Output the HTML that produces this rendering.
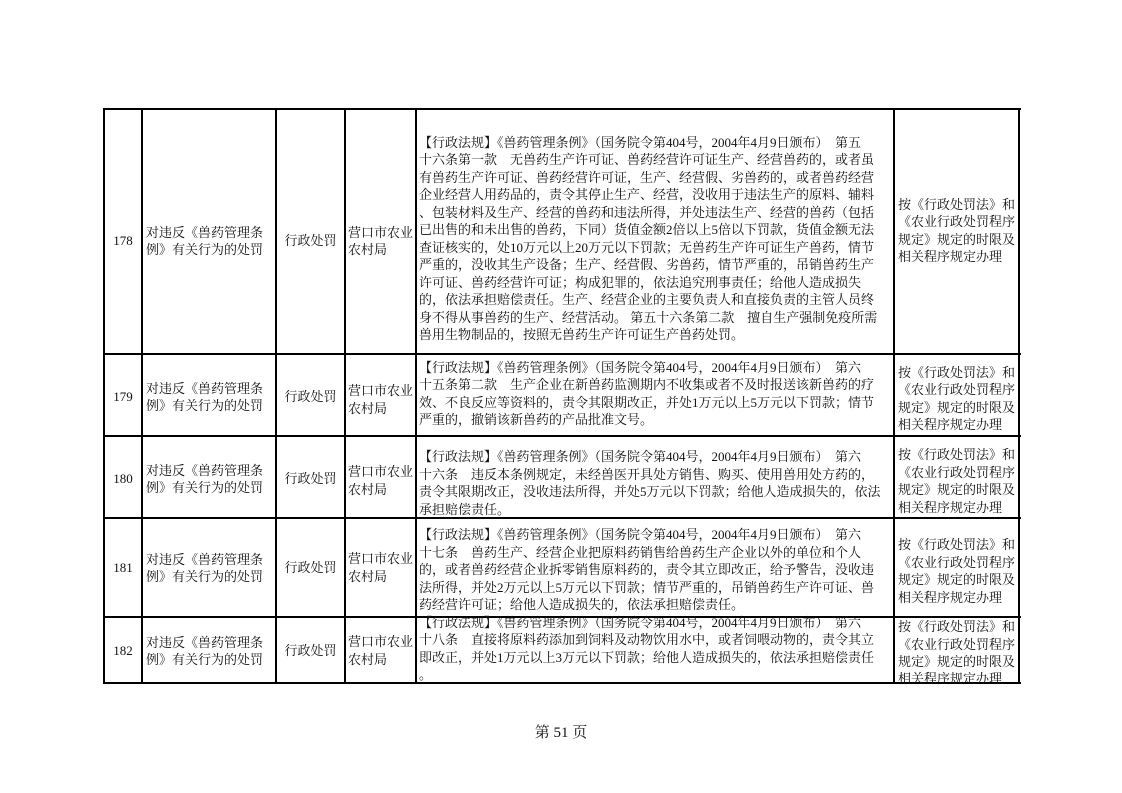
<!DOCTYPE html>
<html><head><meta charset="utf-8"><style>
html,body{margin:0;padding:0;background:#fff;}
body{width:1122px;height:793px;position:relative;overflow:hidden;font-family:"Liberation Serif","Noto Serif CJK SC",serif;font-size:13px;color:#111;}
.h{position:absolute;height:2px;background:#000;left:103px;width:918px;}
.v{position:absolute;width:2px;background:#000;top:108px;height:576px;}
.t{position:absolute;white-space:nowrap;line-height:18px;height:18px;}
.c{text-align:center;}
</style></head><body>
<div class="h" style="top:108px"></div>
<div class="h" style="top:353px"></div>
<div class="h" style="top:435px"></div>
<div class="h" style="top:517px"></div>
<div class="h" style="top:616px"></div>
<div class="h" style="top:682px"></div>
<div class="v" style="left:103px"></div>
<div class="v" style="left:141px"></div>
<div class="v" style="left:275px"></div>
<div class="v" style="left:344px"></div>
<div class="v" style="left:415px"></div>
<div class="v" style="left:893px"></div>
<div class="v" style="left:1018px"></div>

<!-- row 178 -->
<div class="t c" style="left:105px;width:36px;top:232px">178</div>
<div class="t" style="left:146px;top:224px">对违反《兽药管理条</div>
<div class="t" style="left:146px;top:241px">例》有关行为的处罚</div>
<div class="t c" style="left:277px;width:67px;top:232px">行政处罚</div>
<div class="t" style="left:348px;top:224px">营口市农业</div>
<div class="t" style="left:348px;top:241px">农村局</div>
<div class="t" style="left:419px;top:134px">【行政法规】《兽药管理条例》（国务院令第404号，2004年4月9日颁布）　第五</div>
<div class="t" style="left:419px;top:151px">十六条第一款　无兽药生产许可证、兽药经营许可证生产、经营兽药的，或者虽</div>
<div class="t" style="left:419px;top:169px">有兽药生产许可证、兽药经营许可证，生产、经营假、劣兽药的，或者兽药经营</div>
<div class="t" style="left:419px;top:186px">企业经营人用药品的，责令其停止生产、经营，没收用于违法生产的原料、辅料</div>
<div class="t" style="left:419px;top:204px">、包装材料及生产、经营的兽药和违法所得，并处违法生产、经营的兽药（包括</div>
<div class="t" style="left:419px;top:221px">已出售的和未出售的兽药，下同）货值金额2倍以上5倍以下罚款，货值金额无法</div>
<div class="t" style="left:419px;top:239px">查证核实的，处10万元以上20万元以下罚款；无兽药生产许可证生产兽药，情节</div>
<div class="t" style="left:419px;top:256px">严重的，没收其生产设备；生产、经营假、劣兽药，情节严重的，吊销兽药生产</div>
<div class="t" style="left:419px;top:274px">许可证、兽药经营许可证；构成犯罪的，依法追究刑事责任；给他人造成损失</div>
<div class="t" style="left:419px;top:291px">的，依法承担赔偿责任。生产、经营企业的主要负责人和直接负责的主管人员终</div>
<div class="t" style="left:419px;top:309px">身不得从事兽药的生产、经营活动。 第五十六条第二款　擅自生产强制免疫所需</div>
<div class="t" style="left:419px;top:326px">兽用生物制品的，按照无兽药生产许可证生产兽药处罚。</div>
<div class="t" style="left:898px;top:196px">按《行政处罚法》和</div>
<div class="t" style="left:898px;top:213px">《农业行政处罚程序</div>
<div class="t" style="left:898px;top:231px">规定》规定的时限及</div>
<div class="t" style="left:898px;top:248px">相关程序规定办理</div>

<!-- row 179 -->
<div class="t c" style="left:105px;width:36px;top:388px">179</div>
<div class="t" style="left:146px;top:380px">对违反《兽药管理条</div>
<div class="t" style="left:146px;top:397px">例》有关行为的处罚</div>
<div class="t c" style="left:277px;width:67px;top:388px">行政处罚</div>
<div class="t" style="left:348px;top:382px">营口市农业</div>
<div class="t" style="left:348px;top:400px">农村局</div>
<div class="t" style="left:419px;top:359px">【行政法规】《兽药管理条例》（国务院令第404号，2004年4月9日颁布）　第六</div>
<div class="t" style="left:419px;top:376px">十五条第二款　生产企业在新兽药监测期内不收集或者不及时报送该新兽药的疗</div>
<div class="t" style="left:419px;top:394px">效、不良反应等资料的，责令其限期改正，并处1万元以上5万元以下罚款；情节</div>
<div class="t" style="left:419px;top:411px">严重的，撤销该新兽药的产品批准文号。</div>
<div class="t" style="left:898px;top:364px">按《行政处罚法》和</div>
<div class="t" style="left:898px;top:381px">《农业行政处罚程序</div>
<div class="t" style="left:898px;top:399px">规定》规定的时限及</div>
<div class="t" style="left:898px;top:416px">相关程序规定办理</div>

<!-- row 180 -->
<div class="t c" style="left:105px;width:36px;top:470px">180</div>
<div class="t" style="left:146px;top:462px">对违反《兽药管理条</div>
<div class="t" style="left:146px;top:479px">例》有关行为的处罚</div>
<div class="t c" style="left:277px;width:67px;top:470px">行政处罚</div>
<div class="t" style="left:348px;top:463px">营口市农业</div>
<div class="t" style="left:348px;top:481px">农村局</div>
<div class="t" style="left:419px;top:448px">【行政法规】《兽药管理条例》（国务院令第404号，2004年4月9日颁布）　第六</div>
<div class="t" style="left:419px;top:466px">十六条　违反本条例规定，未经兽医开具处方销售、购买、使用兽用处方药的，</div>
<div class="t" style="left:419px;top:483px">责令其限期改正，没收违法所得，并处5万元以下罚款；给他人造成损失的，依法</div>
<div class="t" style="left:419px;top:501px">承担赔偿责任。</div>
<div class="t" style="left:898px;top:446px">按《行政处罚法》和</div>
<div class="t" style="left:898px;top:464px">《农业行政处罚程序</div>
<div class="t" style="left:898px;top:481px">规定》规定的时限及</div>
<div class="t" style="left:898px;top:499px">相关程序规定办理</div>

<!-- row 181 -->
<div class="t c" style="left:105px;width:36px;top:559px">181</div>
<div class="t" style="left:146px;top:551px">对违反《兽药管理条</div>
<div class="t" style="left:146px;top:568px">例》有关行为的处罚</div>
<div class="t c" style="left:277px;width:67px;top:559px">行政处罚</div>
<div class="t" style="left:348px;top:550px">营口市农业</div>
<div class="t" style="left:348px;top:568px">农村局</div>
<div class="t" style="left:419px;top:526px">【行政法规】《兽药管理条例》（国务院令第404号，2004年4月9日颁布）　第六</div>
<div class="t" style="left:419px;top:544px">十七条　兽药生产、经营企业把原料药销售给兽药生产企业以外的单位和个人</div>
<div class="t" style="left:419px;top:561px">的，或者兽药经营企业拆零销售原料药的，责令其立即改正，给予警告，没收违</div>
<div class="t" style="left:419px;top:579px">法所得，并处2万元以上5万元以下罚款；情节严重的，吊销兽药生产许可证、兽</div>
<div class="t" style="left:419px;top:596px">药经营许可证；给他人造成损失的，依法承担赔偿责任。</div>
<div class="t" style="left:898px;top:536px">按《行政处罚法》和</div>
<div class="t" style="left:898px;top:554px">《农业行政处罚程序</div>
<div class="t" style="left:898px;top:571px">规定》规定的时限及</div>
<div class="t" style="left:898px;top:589px">相关程序规定办理</div>

<!-- row 182 -->
<div class="t c" style="left:105px;width:36px;top:642px">182</div>
<div class="t" style="left:146px;top:634px">对违反《兽药管理条</div>
<div class="t" style="left:146px;top:651px">例》有关行为的处罚</div>
<div class="t c" style="left:277px;width:67px;top:642px">行政处罚</div>
<div class="t" style="left:348px;top:633px">营口市农业</div>
<div class="t" style="left:348px;top:651px">农村局</div>
<div class="t" style="left:419px;top:614px">【行政法规】《兽药管理条例》（国务院令第404号，2004年4月9日颁布）　第六</div>
<div class="t" style="left:419px;top:631px">十八条　直接将原料药添加到饲料及动物饮用水中，或者饲喂动物的，责令其立</div>
<div class="t" style="left:419px;top:649px">即改正，并处1万元以上3万元以下罚款；给他人造成损失的，依法承担赔偿责任</div>
<div class="t" style="left:419px;top:666px">。</div>
<div class="t" style="left:898px;top:618px">按《行政处罚法》和</div>
<div class="t" style="left:898px;top:636px">《农业行政处罚程序</div>
<div class="t" style="left:898px;top:653px">规定》规定的时限及</div>
<div class="t" style="left:898px;top:670px">相关程序规定办理</div>

<div class="t c" style="left:461px;width:200px;top:723px;font-size:15px;line-height:20px;height:20px">第 51 页</div>
</body></html>
